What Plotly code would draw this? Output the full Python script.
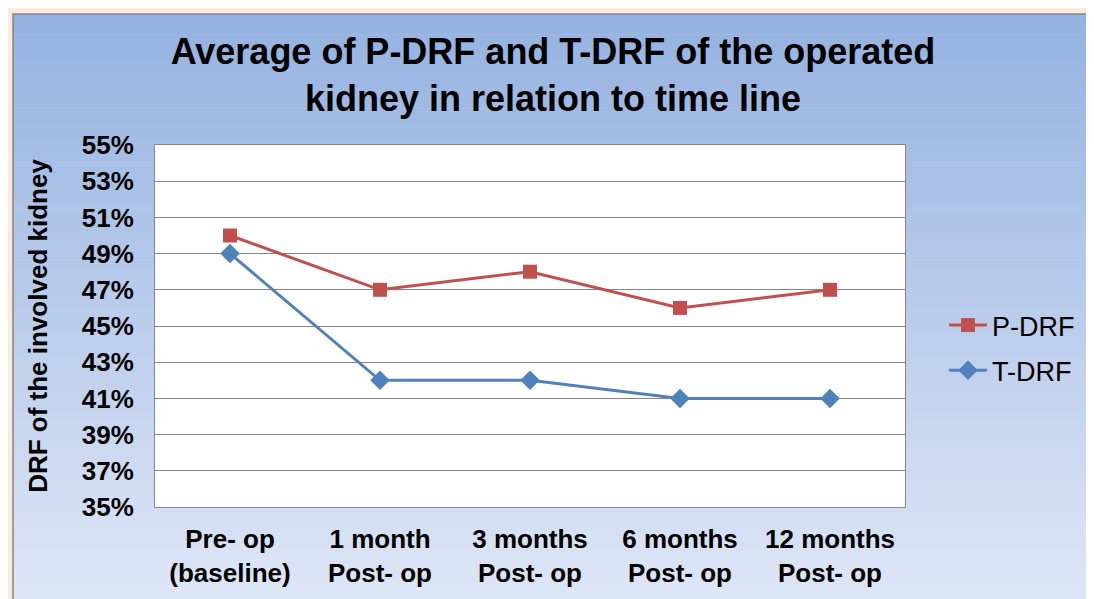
import plotly.graph_objects as go

categories = ["Pre- op<br>(baseline)", "1 month<br>Post- op", "3 months<br>Post- op",
              "6 months<br>Post- op", "12 months<br>Post- op"]
p_drf = [50, 47, 48, 46, 47]
t_drf = [49, 42, 42, 41, 41]
y_ticks = list(range(35, 56, 2))
y_tick_labels = ["%d%%" % v for v in y_ticks]

W, H = 1094, 599
OFF = 8  # page body margin
L, R, T, B = 155 - OFF, 905 - OFF, 145 - OFF, 507 - OFF
pw, ph = R - L, B - T

def px(x):
    return (x - OFF - L) / pw

def py(y):
    return (B - (y - OFF)) / ph

fig = go.Figure()
fig.add_trace(go.Scatter(x=categories, y=p_drf, name="P-DRF", mode="lines+markers",
                         line=dict(color="#C0504D", width=3),
                         marker=dict(symbol="square", size=14, color="#C0504D"),
                         legendgroup="p"))
fig.add_trace(go.Scatter(x=categories, y=t_drf, name="T-DRF", mode="lines+markers",
                         line=dict(color="#4F81BD", width=3),
                         marker=dict(symbol="diamond", size=15, color="#4F81BD"),
                         legendgroup="t"))

shapes = []
top, bot = 14, 620
n = 90
c0 = (149, 178, 224)
c1 = (224, 232, 247)
for i in range(n):
    f = i / (n - 1)
    c = tuple(int(round(c0[k] + (c1[k] - c0[k]) * f)) for k in range(3))
    y0 = top + (bot - top) * i / n
    y1 = top + (bot - top) * (i + 1) / n + 0.6
    shapes.append(dict(type="rect", xref="paper", yref="paper", layer="below",
                       x0=px(13), x1=px(1090), y0=py(y1), y1=py(y0),
                       line=dict(width=0), fillcolor="rgb(%d,%d,%d)" % c))
shapes.append(dict(type="rect", xref="paper", yref="paper", layer="below",
                   x0=px(13), x1=px(1090), y0=py(640), y1=py(14),
                   line=dict(width=1.5, color="#7F8790"), fillcolor="rgba(0,0,0,0)"))
shapes.append(dict(type="rect", xref="paper", yref="paper", layer="below",
                   x0=0, x1=1, y0=0, y1=1,
                   line=dict(width=0), fillcolor="white"))

fig.update_layout(
    width=W, height=H,
    margin=dict(l=L, r=W - R, t=T, b=H - B),
    paper_bgcolor="#FCEADB",
    plot_bgcolor="rgba(0,0,0,0)",
    shapes=shapes,
    font=dict(family="Liberation Sans, Arial", color="black"),
    title=dict(text="Average of P-DRF and T-DRF of the operated<br>kidney in relation to time line",
               x=(553 - OFF) / W, xanchor="center", xref="container",
               y=1 - 56 / H, yanchor="top", yref="container",
               font=dict(size=36, weight="bold", color="black")),
    showlegend=True,
    legend=dict(x=px(944), xanchor="left", y=py(348), yanchor="middle",
                font=dict(size=27, color="black"), bgcolor="rgba(0,0,0,0)",
                tracegroupgap=7, traceorder="grouped", itemwidth=38),
    xaxis=dict(range=[-0.5, 4.5], showgrid=False, showline=True, linecolor="#868686",
               linewidth=1, mirror=True, ticks="", tickfont=dict(size=26, weight="bold"),
               ticklabelstandoff=9),
    yaxis=dict(range=[35, 55], tickvals=y_ticks, ticktext=y_tick_labels,
               showgrid=True, gridcolor="#868686", gridwidth=1,
               showline=True, linecolor="#868686", linewidth=1, mirror=True,
               zeroline=False, ticks="", tickfont=dict(size=26, weight="bold"),
               ticklabelstandoff=15,
               title=dict(text="DRF of the involved kidney", standoff=26,
                          font=dict(size=26, weight="bold"))),
)

fig.write_html("out.html")
